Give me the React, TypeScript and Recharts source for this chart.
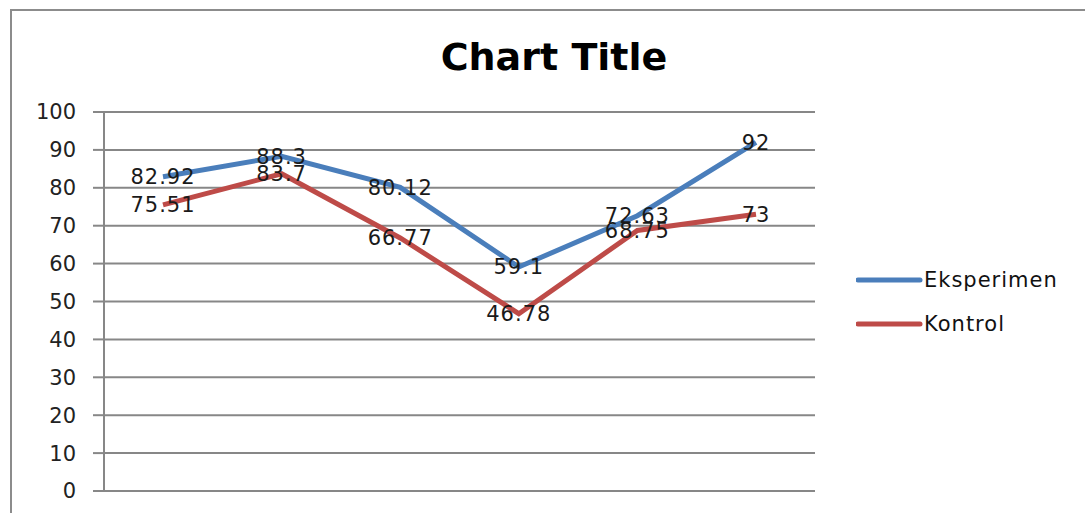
import { LineChart, Line, XAxis, YAxis, CartesianGrid, LabelList } from 'recharts'

const categories = ['1', '2', '3', '4', '5', '6']
const eksperimen = [82.92, 88.3, 80.12, 59.1, 72.63, 92]
const kontrol = [75.51, 83.7, 66.77, 46.78, 68.75, 73]
const yTicks = [0, 10, 20, 30, 40, 50, 60, 70, 80, 90, 100]

const data = categories.map((c, i) => ({ cat: c, eksperimen: eksperimen[i], kontrol: kontrol[i] }))

const FONT = '"DejaVu Sans", Verdana, sans-serif'
const GRID = '#878787'
const BLUE = '#4a7ebb'
const RED = '#be4b48'

const series = [
  { key: 'eksperimen', name: 'Eksperimen', color: BLUE },
  { key: 'kontrol', name: 'Kontrol', color: RED },
]

// legend drawn next to the plot, like Excel's right-hand legend
function LegendBox() {
  return (
    <div style={{ fontFamily: FONT, fontSize: 21, color: '#111' }}>
      {series.map((s) => (
        <div key={s.key} style={{ display: 'flex', alignItems: 'center', height: 44 }}>
          <svg width={68} height={10}>
            <line x1={2} y1={5} x2={64} y2={5} stroke={s.color} strokeWidth={5} strokeLinecap="round" />
          </svg>
          <span style={{ letterSpacing: '1px' }}>{s.name}</span>
        </div>
      ))}
    </div>
  )
}

export default function App() {
  return (
    <div style={{ position: 'absolute', left: 0, top: 0, width: 1085, height: 513, overflow: 'hidden', background: '#fff' }}>
      {/* chart frame, runs off the right and bottom edge */}
      <div
        style={{
          position: 'absolute',
          left: 10,
          top: 9,
          width: 1100,
          height: 540,
          border: '2px solid #8c8c8c',
          boxSizing: 'border-box',
        }}
      />
      <div
        style={{
          position: 'absolute',
          left: 354,
          width: 400,
          top: 32,
          textAlign: 'center',
          fontFamily: FONT,
          fontWeight: 700,
          fontSize: 38,
          lineHeight: '50px',
          color: '#000',
        }}
      >
        Chart Title
      </div>
      <div style={{ position: 'absolute', left: 856, top: 258 }}>
        <LegendBox />
      </div>
      <div style={{ position: 'absolute', left: 0, top: 0 }}>
        <LineChart width={1085} height={513} data={data} margin={{ top: 112, right: 270, left: 0, bottom: 22 }}>
          <CartesianGrid vertical={false} stroke={GRID} strokeWidth={2} />
          <XAxis
            dataKey="cat"
            height={0}
            tick={false}
            tickLine={false}
            axisLine={{ stroke: GRID, strokeWidth: 2 }}
            padding={{ left: 59, right: 59 }}
          />
          <YAxis
            width={104}
            domain={[0, 100]}
            ticks={yTicks}
            interval={0}
            tickSize={11}
            tickMargin={17}
            axisLine={{ stroke: GRID, strokeWidth: 2 }}
            tickLine={{ stroke: GRID, strokeWidth: 2 }}
            tick={{ fontSize: 21, fill: '#222', fontFamily: FONT }}
          />
          {series.map((s) => (
            <Line
              key={s.key}
              type="linear"
              dataKey={s.key}
              name={s.name}
              stroke={s.color}
              strokeWidth={5}
              dot={false}
              activeDot={false}
              isAnimationActive={false}
            >
              <LabelList
                dataKey={s.key}
                position="center"
                style={{ fontSize: 21, fill: '#1a1a1a', fontFamily: FONT, letterSpacing: '1px' }}
              />
            </Line>
          ))}
        </LineChart>
      </div>
    </div>
  )
}
